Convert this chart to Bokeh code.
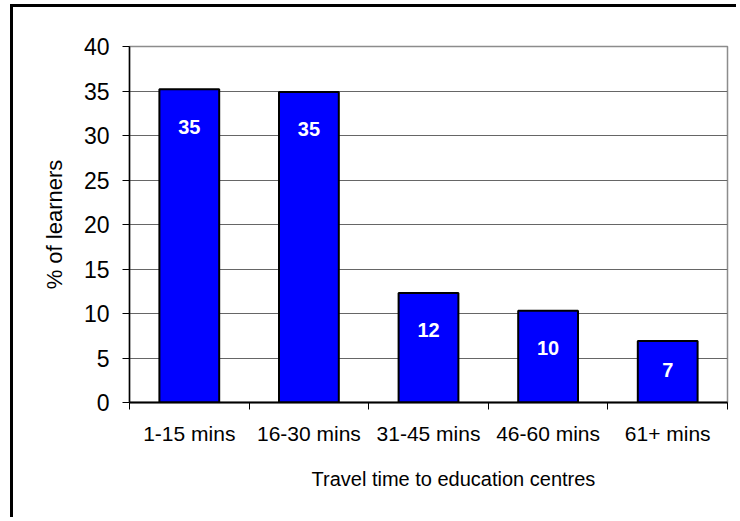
from bokeh.plotting import figure
from bokeh.models import ColumnDataSource, FixedTicker, LinearAxis, Range1d, LabelSet, Title
from bokeh.core.properties import value
from bokeh.embed import file_html
from bokeh.resources import INLINE

categories = ["1-15 mins", "16-30 mins", "31-45 mins", "46-60 mins", "61+ mins"]
values = [35.2, 34.9, 12.3, 10.3, 6.9]
labels = ["35", "35", "12", "10", "7"]
y_ticks = [0, 5, 10, 15, 20, 25, 30, 35, 40]
x_title = "Travel time to education centres"
y_title = "% of learners"

FONT = "Liberation Sans"

xs = [i + 0.5 for i in range(len(categories))]
label_y = [max(v - 4.2, v * 0.53) for v in values]
src = ColumnDataSource(dict(x=xs, top=values, lab=labels, ly=label_y))

p = figure(width=736, height=517, output_backend="svg", toolbar_location=None,
           x_range=Range1d(0, len(categories)), y_range=Range1d(0, 40),
           x_axis_location=None, y_axis_location=None,
           min_border_left=129, min_border_top=46, min_border_right=9,
           min_border_bottom=115)
p.frame_width = 598
p.frame_height = 356
p.background_fill_color = "white"
p.border_fill_color = None
p.styles = {
    "background-color": "white",
    "background-image": "linear-gradient(black, black), linear-gradient(black, black)",
    "background-size": "3px 100%, 100% 3px",
    "background-position": "10px 4px, 10px 4px",
    "background-repeat": "no-repeat, no-repeat",
}
p.outline_line_color = "#8c8c8c"
p.outline_line_width = 1.5

p.xgrid.visible = False
p.ygrid.ticker = FixedTicker(ticks=y_ticks)
p.ygrid.grid_line_color = "#666666"
p.ygrid.grid_line_width = 1

p.vbar(x="x", top="top", width=0.5, bottom=0, source=src,
       fill_color="#0000FF", line_color="black", line_width=2)

p.add_layout(LabelSet(x="x", y="ly", text="lab", source=src,
                      text_color="white", text_font=value(FONT),
                      text_font_style="bold", text_font_size="20px",
                      text_align="center", text_baseline="middle"))

yaxis = LinearAxis(ticker=FixedTicker(ticks=y_ticks, minor_ticks=[]),
                   axis_label=y_title)
yaxis.axis_line_color = "black"
yaxis.axis_line_width = 1.5
yaxis.major_tick_in = 0
yaxis.major_tick_out = 7
yaxis.major_tick_line_color = "black"
yaxis.minor_tick_line_color = None
yaxis.major_label_standoff = 13
yaxis.major_label_text_font = FONT
yaxis.major_label_text_font_size = "23px"
yaxis.major_label_text_color = "black"
yaxis.axis_label_text_font = FONT
yaxis.axis_label_text_font_size = "22px"
yaxis.axis_label_text_font_style = "normal"
yaxis.axis_label_text_color = "black"
yaxis.axis_label_standoff = 14
p.add_layout(yaxis, "left")

bounds = list(range(len(categories) + 1))
xaxis = LinearAxis(ticker=FixedTicker(ticks=xs, minor_ticks=bounds))
xaxis.major_label_overrides = {x: c for x, c in zip(xs, categories)}
xaxis.axis_line_color = "black"
xaxis.axis_line_width = 2
xaxis.major_tick_line_color = None
xaxis.major_tick_in = 0
xaxis.major_tick_out = 7
xaxis.minor_tick_in = 0
xaxis.minor_tick_out = 7
xaxis.minor_tick_line_color = "black"
xaxis.major_label_standoff = 12
xaxis.major_label_text_font = FONT
xaxis.major_label_text_font_size = "21px"
xaxis.major_label_text_color = "black"
p.add_layout(xaxis, "below")

p.add_layout(Title(text=x_title, align="left", offset=182, standoff=37,
                   text_font=FONT, text_font_size="20px",
                   text_font_style="normal", text_color="black"), "below")

open("out.html", "w").write(file_html(p, INLINE))
